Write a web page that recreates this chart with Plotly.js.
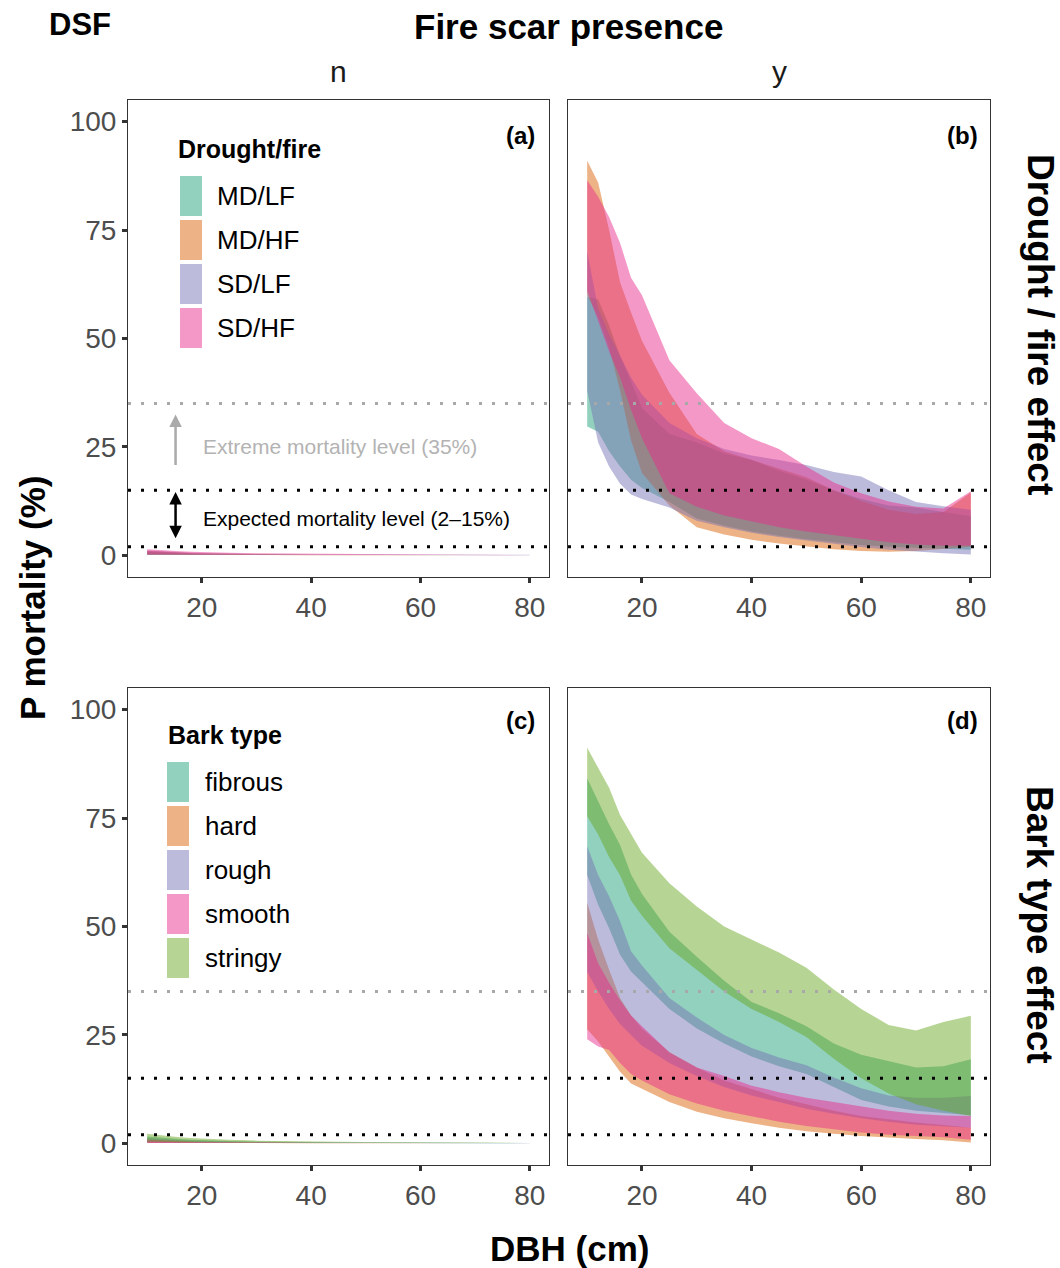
<!DOCTYPE html>
<html><head><meta charset="utf-8">
<script src="https://cdn.plot.ly/plotly-3.0.1.min.js"></script>
<style>html,body{margin:0;padding:0;background:#fff}#chart{width:1060px;height:1268px}</style>
</head><body><div id="chart"></div>
<script>
// ---------------- DATA ----------------
const dbh = [10,12,14,16,18,20,25,30,35,40,45,50,55,60,65,70,75,80];
const xTicks = [20,40,60,80];
const yTicks = [0,25,50,75,100];
const droughtFireLevels = ['MD/LF','MD/HF','SD/LF','SD/HF'];
const barkLevels = ['fibrous','hard','rough','smooth','stringy'];

// Panel (a): no fire scar, drought/fire effect
const a_mdlf_lo = [0.1,0.09,0.08,0.07,0.06,0.05,0.04,0.03,0.02,0.02,0.02,0.01,0.01,0.01,0.01,0.01,0.01,0.01];
const a_mdlf_hi = [0.8,0.66,0.55,0.46,0.39,0.33,0.23,0.17,0.13,0.1,0.08,0.07,0.06,0.05,0.04,0.04,0.03,0.03];
const a_mdhf_lo = [0.12,0.1,0.09,0.08,0.07,0.06,0.05,0.04,0.03,0.03,0.02,0.02,0.02,0.02,0.01,0.01,0.01,0.01];
const a_mdhf_hi = [1.0,0.84,0.7,0.6,0.51,0.43,0.31,0.23,0.17,0.13,0.11,0.09,0.07,0.06,0.05,0.05,0.04,0.04];
const a_sdlf_lo = [0.15,0.13,0.12,0.1,0.09,0.08,0.07,0.06,0.05,0.04,0.04,0.03,0.03,0.03,0.03,0.02,0.02,0.02];
const a_sdlf_hi = [1.1,0.93,0.8,0.69,0.6,0.53,0.4,0.32,0.26,0.22,0.19,0.17,0.15,0.14,0.13,0.12,0.11,0.11];
const a_sdhf_lo = [0.2,0.18,0.16,0.14,0.13,0.12,0.1,0.09,0.08,0.07,0.06,0.06,0.05,0.05,0.05,0.05,0.04,0.04];
const a_sdhf_hi = [1.4,1.2,1.05,0.92,0.82,0.73,0.57,0.46,0.39,0.33,0.29,0.26,0.23,0.21,0.19,0.18,0.17,0.16];

// Panel (b): fire scar present, drought/fire effect
const b_mdlf_lo = [29.7,28.5,24,20.5,17.4,15.5,12.3,8.5,6.8,5.5,4.5,3.7,3,2.4,2,1.7,1.5,1.3];
const b_mdlf_hi = [59.6,59,53,46,40,34,28,26,23.5,22,19.5,17.5,15,13,11.5,11,10,9];
const b_mdhf_lo = [60,55,48,38,26.5,19,11.5,6.5,4.8,3.6,2.7,2,1.4,1,0.8,1,1.5,2];
const b_mdhf_hi = [91,86,75,63,56,49.5,37.5,28,24,22,20,18,15,12.5,10.5,9.5,10,14.5];
const b_sdlf_lo = [38,26,20.5,16.5,14,13,11,8,6.5,5.2,4.2,3.4,2.6,1.9,1.3,0.9,0.5,0.2];
const b_sdlf_hi = [70,57,51,46,41,37,30.5,27,24.5,23,22,20.8,19.2,18.2,15,12.3,11.3,10.5];
const b_sdhf_lo = [61,54,47,41,33.5,27,14.3,11.2,9.2,7.8,6.5,5.5,4.6,3.8,3,2.5,2.2,2.2];
const b_sdhf_hi = [86.5,82.7,78,72,64,60,45,37.4,30.5,27,24.5,20.5,16.8,14.3,12.4,11.2,10.8,14.8];

// Panel (c): no fire scar, bark type effect
const c_fibrous_lo = [0.25,0.22,0.19,0.17,0.15,0.14,0.11,0.09,0.08,0.07,0.06,0.06,0.05,0.05,0.05,0.04,0.04,0.04];
const c_fibrous_hi = [1.6,1.35,1.15,0.98,0.85,0.74,0.55,0.42,0.33,0.27,0.22,0.19,0.16,0.14,0.13,0.12,0.11,0.1];
const c_hard_lo = [0.1,0.09,0.08,0.07,0.06,0.05,0.04,0.03,0.03,0.02,0.02,0.02,0.01,0.01,0.01,0.01,0.01,0.01];
const c_hard_hi = [0.9,0.75,0.63,0.53,0.45,0.39,0.28,0.2,0.15,0.12,0.1,0.08,0.07,0.06,0.05,0.05,0.04,0.04];
const c_rough_lo = [0.15,0.13,0.12,0.1,0.09,0.08,0.06,0.05,0.04,0.04,0.03,0.03,0.03,0.02,0.02,0.02,0.02,0.02];
const c_rough_hi = [1.2,1.0,0.85,0.73,0.63,0.55,0.41,0.31,0.24,0.2,0.16,0.14,0.12,0.1,0.09,0.08,0.08,0.07];
const c_smooth_lo = [0.08,0.07,0.06,0.05,0.05,0.04,0.03,0.03,0.02,0.02,0.02,0.01,0.01,0.01,0.01,0.01,0.01,0.01];
const c_smooth_hi = [0.8,0.66,0.55,0.46,0.39,0.33,0.23,0.17,0.13,0.1,0.08,0.07,0.06,0.05,0.04,0.04,0.03,0.03];
const c_stringy_lo = [0.4,0.35,0.3,0.27,0.24,0.22,0.18,0.15,0.13,0.12,0.11,0.1,0.09,0.09,0.08,0.08,0.08,0.08];
const c_stringy_hi = [2.2,1.9,1.6,1.4,1.2,1.05,0.8,0.62,0.5,0.42,0.36,0.32,0.29,0.26,0.24,0.22,0.21,0.2];

// Panel (d): fire scar present, bark type effect
const d_fibrous_lo = [61.9,55,49.6,43.5,39.6,37,31,26.5,23,20,17.8,16,13,10,8.5,7.5,7,6.5];
const d_fibrous_hi = [84.2,78.8,73.6,68.8,62,57.5,48.8,43,37.5,32.6,30,27,23,20.4,19,17.5,17.8,19.4];
const d_hard_lo = [26.3,23.5,20,16.5,13.8,12.5,9.5,7.3,5.8,4.6,3.6,2.8,2.2,1.7,1.3,1,0.7,0.2];
const d_hard_hi = [55.5,47,40,33.5,29.5,26.5,21,17.5,14.5,12.5,10.5,9,7.5,6.3,5.5,4.8,4.2,3.6];
const d_rough_lo = [39.5,35,31,27.5,25,22.5,18.5,15.5,13,11,9.5,8,6.8,5.8,5,4.3,4,3.6];
const d_rough_hi = [68.5,61.9,57,51.2,44.3,41,33.5,29,25,22,19.8,18,15.2,12.7,11,10.5,10.5,10.9];
const d_smooth_lo = [24,22.3,21.5,18.5,16,14.5,11.3,9.2,7.5,6.2,5,4,3.2,2.5,2,1.7,1.4,0.8];
const d_smooth_hi = [48.5,41.5,37,33,29.5,27,21,17.5,15.5,13.3,11.8,10.5,9.5,8.5,7.5,6.8,6.4,6.3];
const d_stringy_lo = [75.4,71.2,66,61.8,56,52.5,45,40,35,31,28,24.5,19.5,15,11.5,9,7.5,6.3];
const d_stringy_hi = [91.2,86.5,82,75.7,71.5,67,60,54.6,50,47,44,40.5,35.5,31,27.3,26,28,29.4];

// Reference mortality levels
const extremeLevel = 35;
const expectedLevels = [2, 15];

// ---------------- STYLE / BUILD ----------------
const W = 1060, H = 1268;
const FONT = 'Liberation Sans, Arial, Helvetica, sans-serif';
const ALPHA = 0.48;
const COL = {teal:[27,158,119], orange:[217,95,2], purple:[117,112,179], pink:[231,41,138], green:[102,166,30]};
const rgba = (c,a) => `rgba(${c[0]},${c[1]},${c[2]},${a})`;
const px = v => v / W;
const py = v => 1 - v / H;

function band(lo, hi, col, xa, ya, name) {
  return {
    type: 'scatter', mode: 'lines', name: name,
    x: dbh.concat(dbh.slice().reverse()),
    y: hi.concat(lo.slice().reverse()),
    fill: 'toself', fillcolor: rgba(col, ALPHA),
    line: {width: 0, color: rgba(col, 0)},
    xaxis: xa, yaxis: ya, showlegend: false, hoverinfo: 'skip'
  };
}

const dfCols = [COL.teal, COL.orange, COL.purple, COL.pink];
const barkCols = [COL.teal, COL.orange, COL.purple, COL.pink, COL.green];

const traces = [
  band(a_mdlf_lo, a_mdlf_hi, COL.teal, 'x', 'y', 'MD/LF'),
  band(a_mdhf_lo, a_mdhf_hi, COL.orange, 'x', 'y', 'MD/HF'),
  band(a_sdlf_lo, a_sdlf_hi, COL.purple, 'x', 'y', 'SD/LF'),
  band(a_sdhf_lo, a_sdhf_hi, COL.pink, 'x', 'y', 'SD/HF'),
  band(b_mdlf_lo, b_mdlf_hi, COL.teal, 'x2', 'y2', 'MD/LF'),
  band(b_mdhf_lo, b_mdhf_hi, COL.orange, 'x2', 'y2', 'MD/HF'),
  band(b_sdlf_lo, b_sdlf_hi, COL.purple, 'x2', 'y2', 'SD/LF'),
  band(b_sdhf_lo, b_sdhf_hi, COL.pink, 'x2', 'y2', 'SD/HF'),
  band(c_fibrous_lo, c_fibrous_hi, COL.teal, 'x3', 'y3', 'fibrous'),
  band(c_hard_lo, c_hard_hi, COL.orange, 'x3', 'y3', 'hard'),
  band(c_rough_lo, c_rough_hi, COL.purple, 'x3', 'y3', 'rough'),
  band(c_smooth_lo, c_smooth_hi, COL.pink, 'x3', 'y3', 'smooth'),
  band(c_stringy_lo, c_stringy_hi, COL.green, 'x3', 'y3', 'stringy'),
  band(d_fibrous_lo, d_fibrous_hi, COL.teal, 'x4', 'y4', 'fibrous'),
  band(d_hard_lo, d_hard_hi, COL.orange, 'x4', 'y4', 'hard'),
  band(d_rough_lo, d_rough_hi, COL.purple, 'x4', 'y4', 'rough'),
  band(d_smooth_lo, d_smooth_hi, COL.pink, 'x4', 'y4', 'smooth'),
  band(d_stringy_lo, d_stringy_hi, COL.green, 'x4', 'y4', 'stringy')
];

const axisBase = {
  showgrid: false, zeroline: false, showline: true, mirror: true,
  linecolor: '#333333', linewidth: 1,
  ticks: 'outside', ticklen: 5, tickwidth: 3, tickcolor: '#333333',
  tickfont: {family: FONT, size: 28, color: '#4d4d4d'}, fixedrange: true
};
const xL = [128/W, 549/W], xR = [568/W, 990/W];
const yT = [1 - 577/H, 1 - 100/H], yB = [1 - 1165/H, 1 - 688/H];
const xr = [6.5, 83.5], yr = [-5, 105];

const layout = {
  width: W, height: H,
  margin: {l: 0, r: 0, t: 0, b: 0},
  paper_bgcolor: '#ffffff', plot_bgcolor: '#ffffff',
  showlegend: false,
  font: {family: FONT},
  xaxis:  Object.assign({}, axisBase, {domain: xL, anchor: 'y',  range: xr, tickvals: xTicks}),
  yaxis:  Object.assign({}, axisBase, {domain: yT, anchor: 'x',  range: yr, tickvals: yTicks}),
  xaxis2: Object.assign({}, axisBase, {domain: xR, anchor: 'y2', range: xr, tickvals: xTicks}),
  yaxis2: Object.assign({}, axisBase, {domain: yT, anchor: 'x2', range: yr, tickvals: yTicks, ticks: '', showticklabels: false}),
  xaxis3: Object.assign({}, axisBase, {domain: xL, anchor: 'y3', range: xr, tickvals: xTicks}),
  yaxis3: Object.assign({}, axisBase, {domain: yB, anchor: 'x3', range: yr, tickvals: yTicks}),
  xaxis4: Object.assign({}, axisBase, {domain: xR, anchor: 'y4', range: xr, tickvals: xTicks}),
  yaxis4: Object.assign({}, axisBase, {domain: yB, anchor: 'x4', range: yr, tickvals: yTicks, ticks: '', showticklabels: false}),
  shapes: [], annotations: []
};

// Reference lines in every panel
[['x','y'],['x2','y2'],['x3','y3'],['x4','y4']].forEach(([xa, ya]) => {
  layout.shapes.push({type: 'line', layer: 'above', xref: xa + ' domain', yref: ya, x0: 0, x1: 1, y0: extremeLevel, y1: extremeLevel,
    line: {color: '#a8a8a8', width: 3, dash: '3px,10px'}});
  expectedLevels.forEach(v => layout.shapes.push({type: 'line', layer: 'above', xref: xa + ' domain', yref: ya, x0: 0, x1: 1, y0: v, y1: v,
    line: {color: '#000000', width: 3, dash: '3px,10px'}}));
});

const A = layout.annotations;
// Legends (drawn manually)
function legend(title, labels, cols, titleX, titleY, swX, labX, firstY, step) {
  A.push({xref: 'paper', yref: 'paper', x: px(titleX), y: py(titleY), xanchor: 'left', yanchor: 'middle',
    text: '<b>' + title + '</b>', showarrow: false, font: {family: FONT, size: 25, color: '#000'}});
  labels.forEach((lab, i) => {
    const cy = firstY + i * step;
    layout.shapes.push({type: 'rect', xref: 'paper', yref: 'paper', layer: 'above',
      x0: px(swX), x1: px(swX + 22), y0: py(cy + 20), y1: py(cy - 20),
      fillcolor: rgba(cols[i], ALPHA), line: {width: 0}});
    A.push({xref: 'paper', yref: 'paper', x: px(labX), y: py(cy), xanchor: 'left', yanchor: 'middle',
      text: lab, showarrow: false, font: {family: FONT, size: 26, color: '#000'}});
  });
}
legend('Drought/fire', droughtFireLevels, dfCols, 176, 149, 180, 215, 196, 44);
legend('Bark type', barkLevels, barkCols, 166, 735, 167, 203, 782, 44);

const txt = (x, y, text, size, opts) => A.push(Object.assign({xref: 'paper', yref: 'paper', x: px(x), y: py(y),
  xanchor: 'center', yanchor: 'middle',
  text: text, showarrow: false, font: {family: FONT, size: size, color: '#000'}}, opts || {}));

txt(80, 25, '<b>DSF</b>', 31);
txt(568, 27, '<b>Fire scar presence</b>', 35);
txt(338.5, 72, 'n', 30, {font: {family: FONT, size: 30, color: '#1a1a1a'}});
txt(779, 72, 'y', 30, {font: {family: FONT, size: 30, color: '#1a1a1a'}});
txt(33, 598, '<b>P mortality (%)</b>', 35, {textangle: -90});
txt(569, 1248, '<b>DBH (cm)</b>', 35);
txt(1040, 324, '<b>Drought / fire effect</b>', 37, {textangle: 90});
txt(1040, 925, '<b>Bark type effect</b>', 37, {textangle: 90});
txt(537, 135, '<b>(a)</b>', 24, {xanchor: 'right'});
txt(980, 135, '<b>(b)</b>', 24, {xanchor: 'right'});
txt(537, 720, '<b>(c)</b>', 24, {xanchor: 'right'});
txt(980, 720, '<b>(d)</b>', 24, {xanchor: 'right'});

// Arrows and labels in panel (a)
A.push({xref: 'x', yref: 'y', axref: 'x', ayref: 'y', x: 15.2, y: 32.5, ax: 15.2, ay: 20.5, text: '',
  showarrow: true, arrowhead: 2, arrowsize: 1, arrowwidth: 2.5, arrowcolor: '#aaaaaa'});
A.push({xref: 'x', yref: 'y', x: 19.8, y: 25, xanchor: 'left', yanchor: 'middle', showarrow: false,
  text: 'Extreme mortality level (35%)', font: {family: FONT, size: 21, color: '#b3b3b3'}});
A.push({xref: 'x', yref: 'y', axref: 'x', ayref: 'y', x: 15.2, y: 14.6, ax: 15.2, ay: 3.6, text: '',
  showarrow: true, arrowside: 'end+start', arrowhead: 2, startarrowhead: 2, arrowsize: 1, startarrowsize: 1,
  arrowwidth: 2.5, arrowcolor: '#000000'});
A.push({xref: 'x', yref: 'y', x: 19.8, y: 8.5, xanchor: 'left', yanchor: 'middle', showarrow: false,
  text: 'Expected mortality level (2–15%)', font: {family: FONT, size: 21, color: '#000000'}});

Plotly.newPlot('chart', traces, layout, {staticPlot: true, displayModeBar: false});
</script>
</body></html>
